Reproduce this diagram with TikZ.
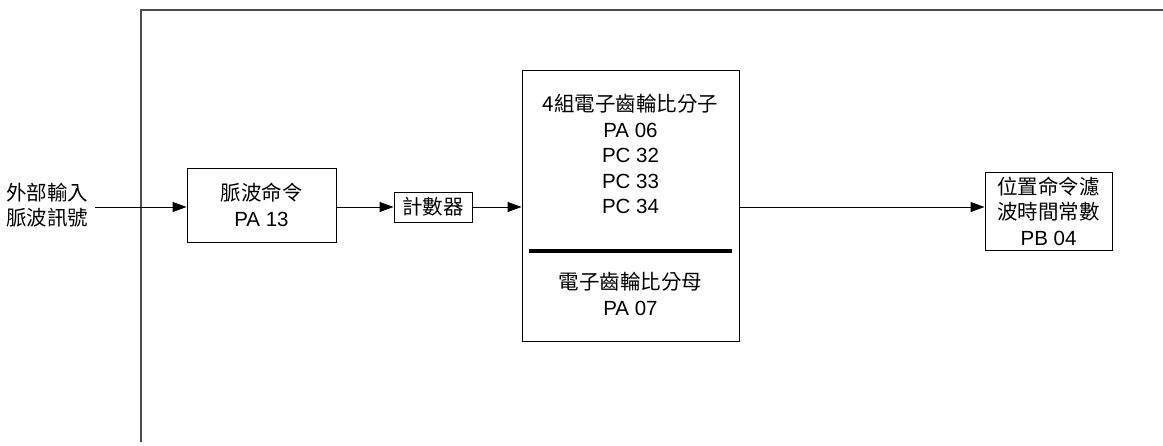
\documentclass[tikz,border=0pt]{standalone}
\usepackage{fontspec}
\setmainfont{Liberation Sans}
\newfontfamily\cjk{Noto Sans CJK TC}
\usetikzlibrary{arrows.meta}
\begin{document}
\begin{tikzpicture}[x=1pt,y=-1pt,
  box/.style={draw,line width=0.9pt,inner sep=0pt},
  txt/.style={font=\fontsize{20.5}{25.5}\selectfont,align=center,inner sep=0pt},
  conn/.style={line width=0.9pt,-{Triangle[length=14pt,width=10pt]}}]
\useasboundingbox (0,0) rectangle (1163,445);
% frame
\draw[line width=1.2pt,gray!60!black] (141,442) -- (141,10) -- (1163,10);
% nodes
\node[txt,anchor=west] (in) at (6,205) {{\cjk 外部輸入}\\{\cjk 脈波訊號}};
\coordinate (inend) at (95,207);
\node[box,minimum width=149pt,minimum height=74pt] (pulse) at (261.5,205) {};
\node[txt] at (261.5,205) {{\cjk 脈波命令}\\PA 13};
\node[box,minimum width=78pt,minimum height=30pt] (cnt) at (433,207) {};
\node[txt] at (433,207) {\cjk 計數器};
\node[box,minimum width=217pt,minimum height=271pt] (gear) at (630.5,205.5) {};
\node[txt,anchor=north] at (630.5,94) {{\cjk 4組電子齒輪比分子}\\PA 06\\PC 32\\PC 33\\PC 34};
\node[txt,anchor=north] at (630.5,272) {{\cjk 電子齒輪比分母}\\PA 07};
\draw[line width=3.5pt] (529,251) -- (732,251);
\node[box,minimum width=127pt,minimum height=78pt] (filt) at (1048.5,211) {};
\node[txt] at (1048.5,211) {{\cjk 位置命令濾}\\{\cjk 波時間常數}\\PB 04};
% connectors
\draw[conn] (inend) -- (pulse.west |- inend);
\draw[conn] (pulse.east |- cnt) -- (cnt.west);
\draw[conn] (cnt.east) -- (gear.west |- cnt);
\draw[conn] (gear.east |- cnt) -- (filt.west |- cnt);
\end{tikzpicture}
\end{document}
